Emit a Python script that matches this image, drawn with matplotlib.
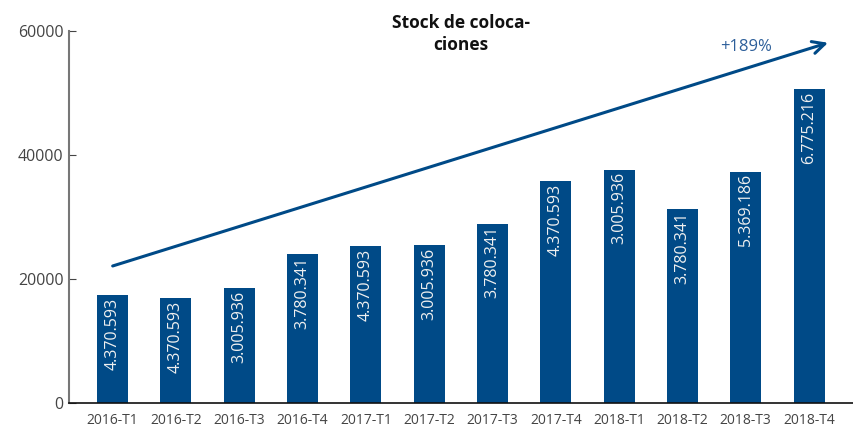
import matplotlib.pyplot as plt

plt.rcParams['font.family'] = ['Open Sans', 'DejaVu Sans']

# Trimestres y stock de colocaciones
periodos = ['2016-T1', '2016-T2', '2016-T3', '2016-T4', '2017-T1', '2017-T2',
            '2017-T3', '2017-T4', '2018-T1', '2018-T2', '2018-T3', '2018-T4']
valores = [17400, 16900, 18500, 24000, 25300, 25500,
           28900, 35800, 37600, 31300, 37300, 50600]
etiquetas = ['4.370.593', '4.370.593', '3.005.936', '3.780.341', '4.370.593', '3.005.936',
             '3.780.341', '4.370.593', '3.005.936', '3.780.341', '5.369.186', '6.775.216']
yticks = [0, 20000, 40000, 60000]

azul = '#004a87'

fig = plt.figure(figsize=(8.54, 4.29), dpi=100)
ax = fig.add_axes([69 / 854, 26 / 429, 785 / 854, 372 / 429])

x = list(range(len(periodos)))
ax.bar(x, valores, width=0.49, color=azul)

for xi, v, lab in zip(x, valores, etiquetas):
    ax.text(xi, v - 400, lab, rotation=90, ha='center', va='top',
            color='#f0f0f0', fontsize=11.5)

# Flecha de tendencia
ax.annotate('', xy=(11.3, 58100), xytext=(0, 22100),
            arrowprops=dict(arrowstyle='->', color=azul, lw=2.2,
                            mutation_scale=22, shrinkA=0, shrinkB=0))
ax.text(10.0, 57400, '+189%', color='#2d5f9a', fontsize=12, ha='center', va='center')

ax.set_xlim(-0.69, 11.71)
ax.set_ylim(0, 60000)
ax.set_yticks(yticks)
ax.set_xticks(x)
ax.set_xticklabels(periodos)
ax.tick_params(axis='y', direction='in', length=5, colors='#444444', labelsize=11.5, pad=4)
ax.tick_params(axis='x', length=0, colors='#444444', labelsize=10, pad=7)
ax.spines['top'].set_visible(False)
ax.spines['right'].set_visible(False)
ax.spines['left'].set_color('#777777')
ax.spines['left'].set_linewidth(1.5)
ax.spines['bottom'].set_color('#111111')
ax.spines['bottom'].set_linewidth(1.2)

fig.text(461 / 854, 1 - 34 / 429, 'Stock de coloca-\nciones', ha='center', va='center',
         fontsize=12.5, fontweight='bold', color='#111111', linespacing=1.3)

plt.savefig('out.png', dpi=100)
